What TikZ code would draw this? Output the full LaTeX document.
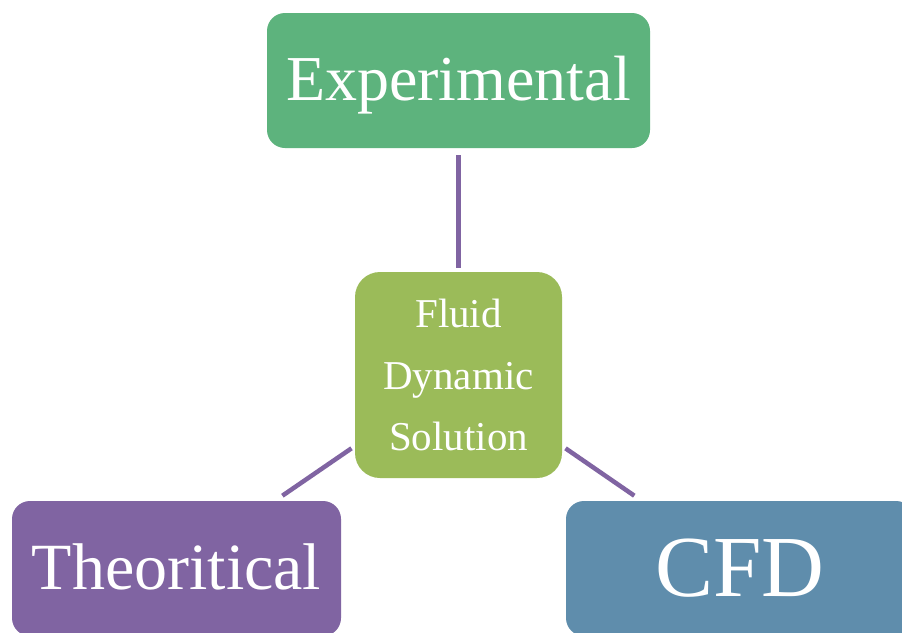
\documentclass[tikz,border=0pt]{standalone}
\usepackage{fontspec}
\setmainfont{Liberation Serif}
\definecolor{expgreen}{RGB}{93,179,125}
\definecolor{coregreen}{RGB}{155,187,89}
\definecolor{theopurple}{RGB}{128,100,162}
\definecolor{cfdblue}{RGB}{95,141,172}
\definecolor{linkpurple}{RGB}{128,100,162}
\begin{document}
\begin{tikzpicture}[x=1pt,y=-1pt,
  box/.style={rectangle, rounded corners=18pt, inner sep=0pt, text=white, draw=none},
  link/.style={draw=linkpurple, line width=4.5pt}]
\useasboundingbox (0,0) rectangle (902,632);
\fill[white] (0,0) rectangle (902,632);
\clip (0,0) rectangle (902,632);

% outer approaches
\node[box, fill=expgreen, minimum width=383pt, minimum height=135pt,
      text height=39pt, text depth=0pt, font=\fontsize{64}{64}\selectfont]
      (exp) at (458.5,80.5) {Experimental};
\node[box, fill=theopurple, minimum width=329pt, minimum height=135pt,
      text height=41pt, text depth=0pt, font=\fontsize{66}{66}\selectfont]
      (theo) at (176.5,568.5) {Theoritical};
\node[box, fill=cfdblue, minimum width=348pt, minimum height=135pt,
      text height=55pt, text depth=0pt, font=\fontsize{87}{87}\selectfont]
      (cfd) at (740,568.5) {CFD};

% central problem
\node[box, rounded corners=25pt, fill=coregreen, minimum width=207pt, minimum height=206pt,
      align=center, font=\fontsize{41}{61.5}\selectfont]
      (core) at (458.5,375) {Fluid\\Dynamic\\Solution};

% connectors
\draw[link, shorten <=7pt, shorten >=4pt] (exp) -- (core);
\draw[link, shorten <=4pt, shorten >=9pt] (core) -- (theo);
\draw[link, shorten <=4pt, shorten >=9pt] (core) -- (cfd);
\end{tikzpicture}
\end{document}
